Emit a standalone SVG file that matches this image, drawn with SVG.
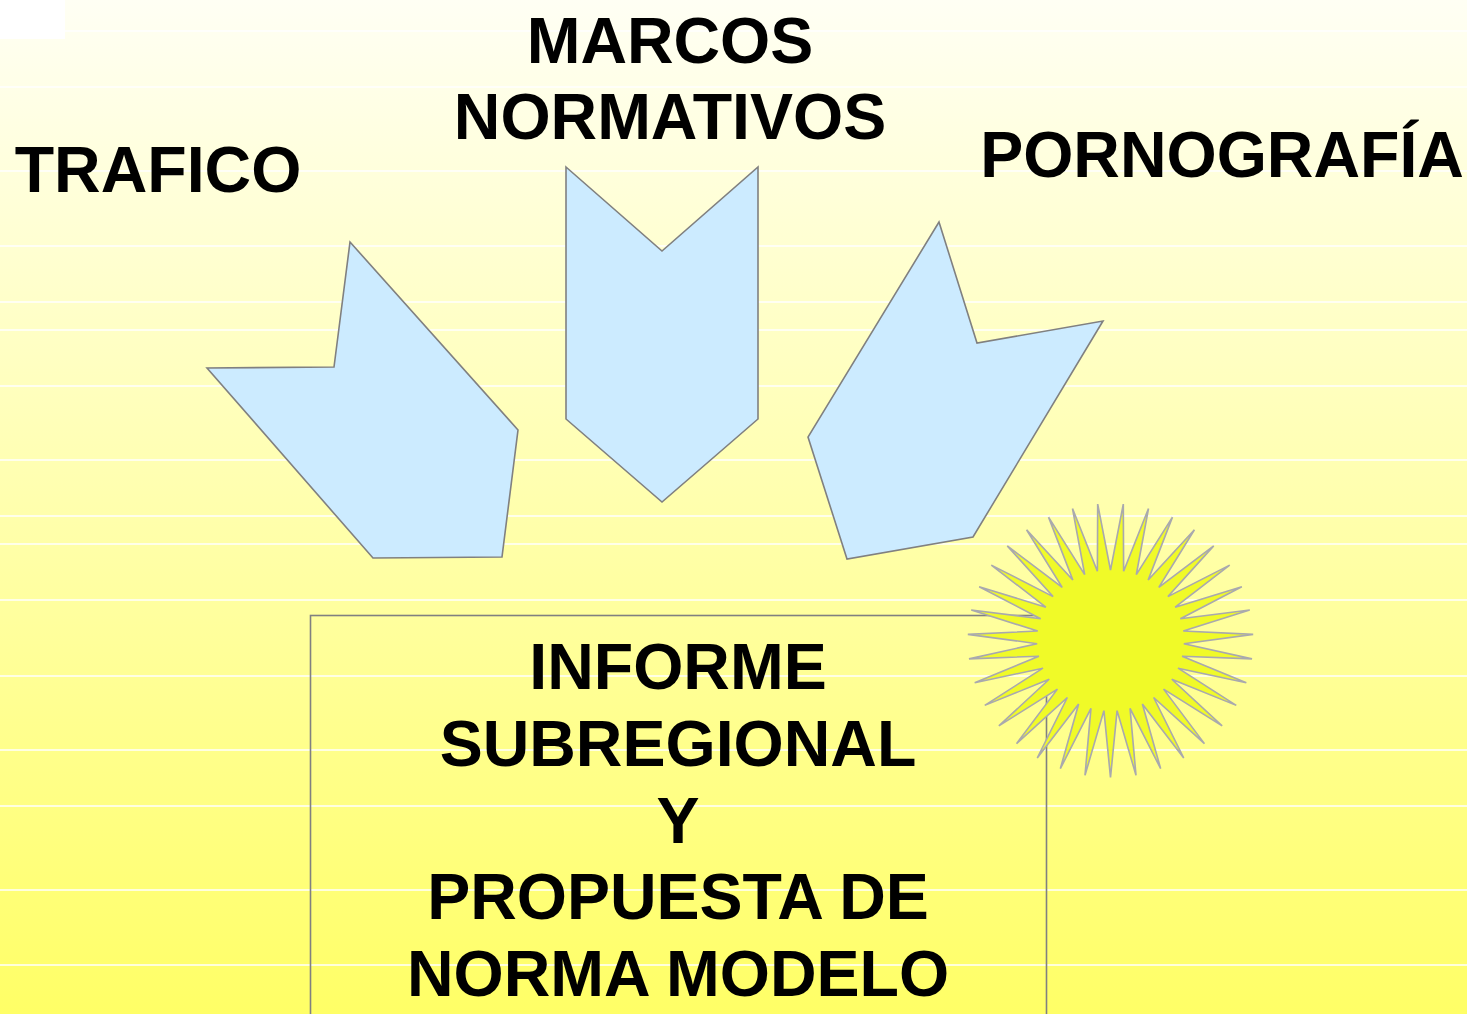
<svg xmlns="http://www.w3.org/2000/svg" width="1467" height="1014" viewBox="0 0 1467 1014">
<defs>
<linearGradient id="bg" x1="0" y1="0" x2="0" y2="1">
<stop offset="0" stop-color="#FFFFF4"/>
<stop offset="1" stop-color="#FFFF66"/>
</linearGradient>
<style>
.t{font-family:"Liberation Sans",Arial,sans-serif;font-weight:bold;font-size:64.5px;fill:#000;text-anchor:middle}
.arrow{fill:#CCEBFF;stroke:#808080;stroke-width:1.6;stroke-linejoin:miter}
.rule{stroke:#FFFFFF;stroke-width:1.5}
</style>
</defs>
<rect x="0" y="0" width="1467" height="1014" fill="url(#bg)"/>
<g id="rules">
<line class="rule" x1="0" y1="31" x2="1467" y2="31"/>
<line class="rule" x1="0" y1="87" x2="1467" y2="87"/>
<line class="rule" x1="0" y1="171" x2="1467" y2="171"/>
<line class="rule" x1="0" y1="246" x2="1467" y2="246"/>
<line class="rule" x1="0" y1="302" x2="1467" y2="302"/>
<line class="rule" x1="0" y1="330" x2="1467" y2="330"/>
<line class="rule" x1="0" y1="386" x2="1467" y2="386"/>
<line class="rule" x1="0" y1="460" x2="1467" y2="460"/>
<line class="rule" x1="0" y1="516" x2="1467" y2="516"/>
<line class="rule" x1="0" y1="544" x2="1467" y2="544"/>
<line class="rule" x1="0" y1="600" x2="1467" y2="600"/>
<line class="rule" x1="0" y1="676" x2="1467" y2="676"/>
<line class="rule" x1="0" y1="750" x2="1467" y2="750"/>
<line class="rule" x1="0" y1="806" x2="1467" y2="806"/>
<line class="rule" x1="0" y1="890" x2="1467" y2="890"/>
<line class="rule" x1="0" y1="965" x2="1467" y2="965"/>
</g>
<rect x="0" y="0" width="65" height="39" fill="#FFFFFF"/>
<g id="label-marcos">
<text class="t" x="670" y="63">MARCOS</text>
<text class="t" x="670" y="139">NORMATIVOS</text>
</g>
<g id="label-trafico">
<text class="t" x="158" y="192">TRAFICO</text>
</g>
<g id="label-pornografia">
<text class="t" x="1222" y="177">PORNOGRAFÍA</text>
</g>
<g id="arrow-trafico">
<polygon class="arrow" points="350,242 518,430 502,557 373,558 207,368 334,367"/>
</g>
<g id="arrow-marcos">
<polygon class="arrow" points="566,167 662,251 758,167 758,419 662,502 566,419"/>
</g>
<g id="arrow-pornografia">
<polygon class="arrow" points="939,222 977,343 1103,321 973,537 847,559 808,437"/>
</g>
<g id="informe">
<rect x="310.5" y="615.5" width="736" height="430" fill="none" stroke="#808080" stroke-width="1.6"/>
<text class="t" x="678" y="689">INFORME</text>
<text class="t" x="678" y="766">SUBREGIONAL</text>
<text class="t" x="678" y="843">Y</text>
<text class="t" x="678" y="919">PROPUESTA DE</text>
<text class="t" x="678" y="996">NORMA MODELO</text>
</g>
<g id="sun">
<polygon transform="translate(1110.5,640.5) scale(1.02,0.978)" fill="#F0FA28" stroke="#A9A9AE" stroke-width="1.6" stroke-linejoin="miter" stroke-miterlimit="4" points="0,-72 12.55,-139.44 12.86,-70.84 37.25,-134.95 25.30,-67.41 60.74,-126.14 36.93,-61.81 82.29,-113.26 47.37,-54.22 101.19,-96.75 56.29,-44.89 116.84,-77.12 63.40,-34.12 128.73,-55.02 68.48,-22.25 136.49,-31.15 71.35,-9.66 139.86,-6.28 71.93,3.23 138.73,18.79 70.19,16.02 133.15,43.26 66.21,28.30 123.28,66.34 60.09,39.66 109.46,87.29 52.04,49.76 92.11,105.43 42.32,58.25 71.81,120.18 31.24,64.87 49.19,131.07 19.15,69.41 25.00,137.75 6.45,71.71 0,140 -6.45,71.71 -25.00,137.75 -19.15,69.41 -49.19,131.07 -31.24,64.87 -71.81,120.18 -42.32,58.25 -92.11,105.43 -52.04,49.76 -109.46,87.29 -60.09,39.66 -123.28,66.34 -66.21,28.30 -133.15,43.26 -70.19,16.02 -138.73,18.79 -71.93,3.23 -139.86,-6.28 -71.35,-9.66 -136.49,-31.15 -68.48,-22.25 -128.73,-55.02 -63.40,-34.12 -116.84,-77.12 -56.29,-44.89 -101.19,-96.75 -47.37,-54.22 -82.29,-113.26 -36.93,-61.81 -60.74,-126.14 -25.30,-67.41 -37.25,-134.95 -12.86,-70.84 -12.55,-139.44"/>
</g>
</svg>
